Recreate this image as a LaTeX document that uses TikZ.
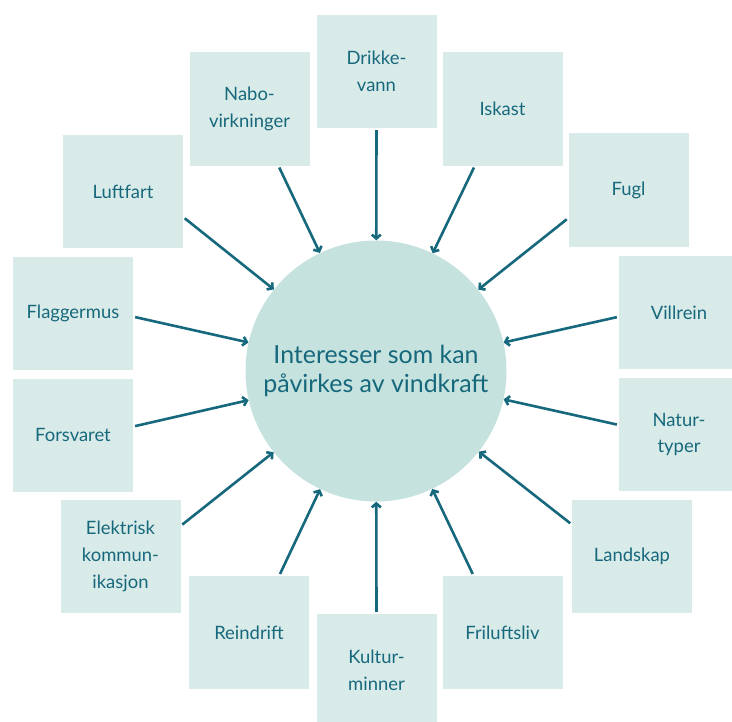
\documentclass[tikz,border=0pt]{standalone}
\usepackage{fontspec}
\setmainfont{Lato}
\usetikzlibrary{arrows.meta}
\definecolor{boxfill}{RGB}{217,235,233}
\definecolor{circfill}{RGB}{198,226,222}
\definecolor{tealdark}{RGB}{22,104,124}
\begin{document}
\begin{tikzpicture}[x=1bp,y=-1bp,
  box/.style={rectangle, fill=boxfill, minimum width=120bp, minimum height=113bp, inner sep=0pt, align=center, text=tealdark, font=\fontsize{18.5}{27}\selectfont},
  hub/.style={circle, fill=circfill, minimum size=261bp, inner sep=0pt, align=center, text=tealdark, font=\fontsize{25}{30}\selectfont},
  arr/.style={draw=tealdark, line width=2.6bp, -{Straight Barb[length=4bp,width=9bp]}, shorten <=2bp}]
\useasboundingbox (0,0) rectangle (732,722);
\node[hub] (c) at (376,371) {Interesser som kan\\påvirkes av vindkraft};
\node[box] (dv) at (376.5,71.5) {Drikke-\\vann};
\node[box] (nv) at (249.5,109) {Nabo-\\virkninger};
\node[box] (ik) at (502.5,109) {Iskast};
\node[box] (lf) at (123,191.5) {Luftfart};
\node[box] (fu) at (628.5,190) {Fugl};
\node[box] (fm) at (73,313.5) {Flaggermus};
\node[box] (vr) at (679,312.5) {Villrein};
\node[box] (fs) at (73,435) {Forsvaret};
\node[box] (nt) at (679,434.5) {Natur-\\typer};
\node[box] (ek) at (120.5,556.5) {Elektrisk\\kommun-\\ikasjon};
\node[box] (ls) at (632,556.5) {Landskap};
\node[box] (rd) at (249,632.5) {Reindrift};
\node[box] (fl) at (502.5,632.5) {Friluftsliv};
\node[box] (km) at (376.5,670.5) {Kultur-\\minner};
\draw[arr] (dv.south) -- (c);
\draw[arr] (nv.-63.4) -- (c);
\draw[arr] (ik.-116.6) -- (c);
\draw[arr] (lf.-23.8) -- (c);
\draw[arr] (fu.205.6) -- (c);
\draw[arr] (fm.-3.3) -- (c);
\draw[arr] (vr.184.3) -- (c);
\draw[arr] (fs.8.5) -- (c);
\draw[arr] (nt.171) -- (c);
\draw[arr] (ek.27.9) -- (c);
\draw[arr] (ls.152.1) -- (c);
\draw[arr] (rd.62.8) -- (c);
\draw[arr] (fl.117.2) -- (c);
\draw[arr] (km.north) -- (c);
\end{tikzpicture}
\end{document}
